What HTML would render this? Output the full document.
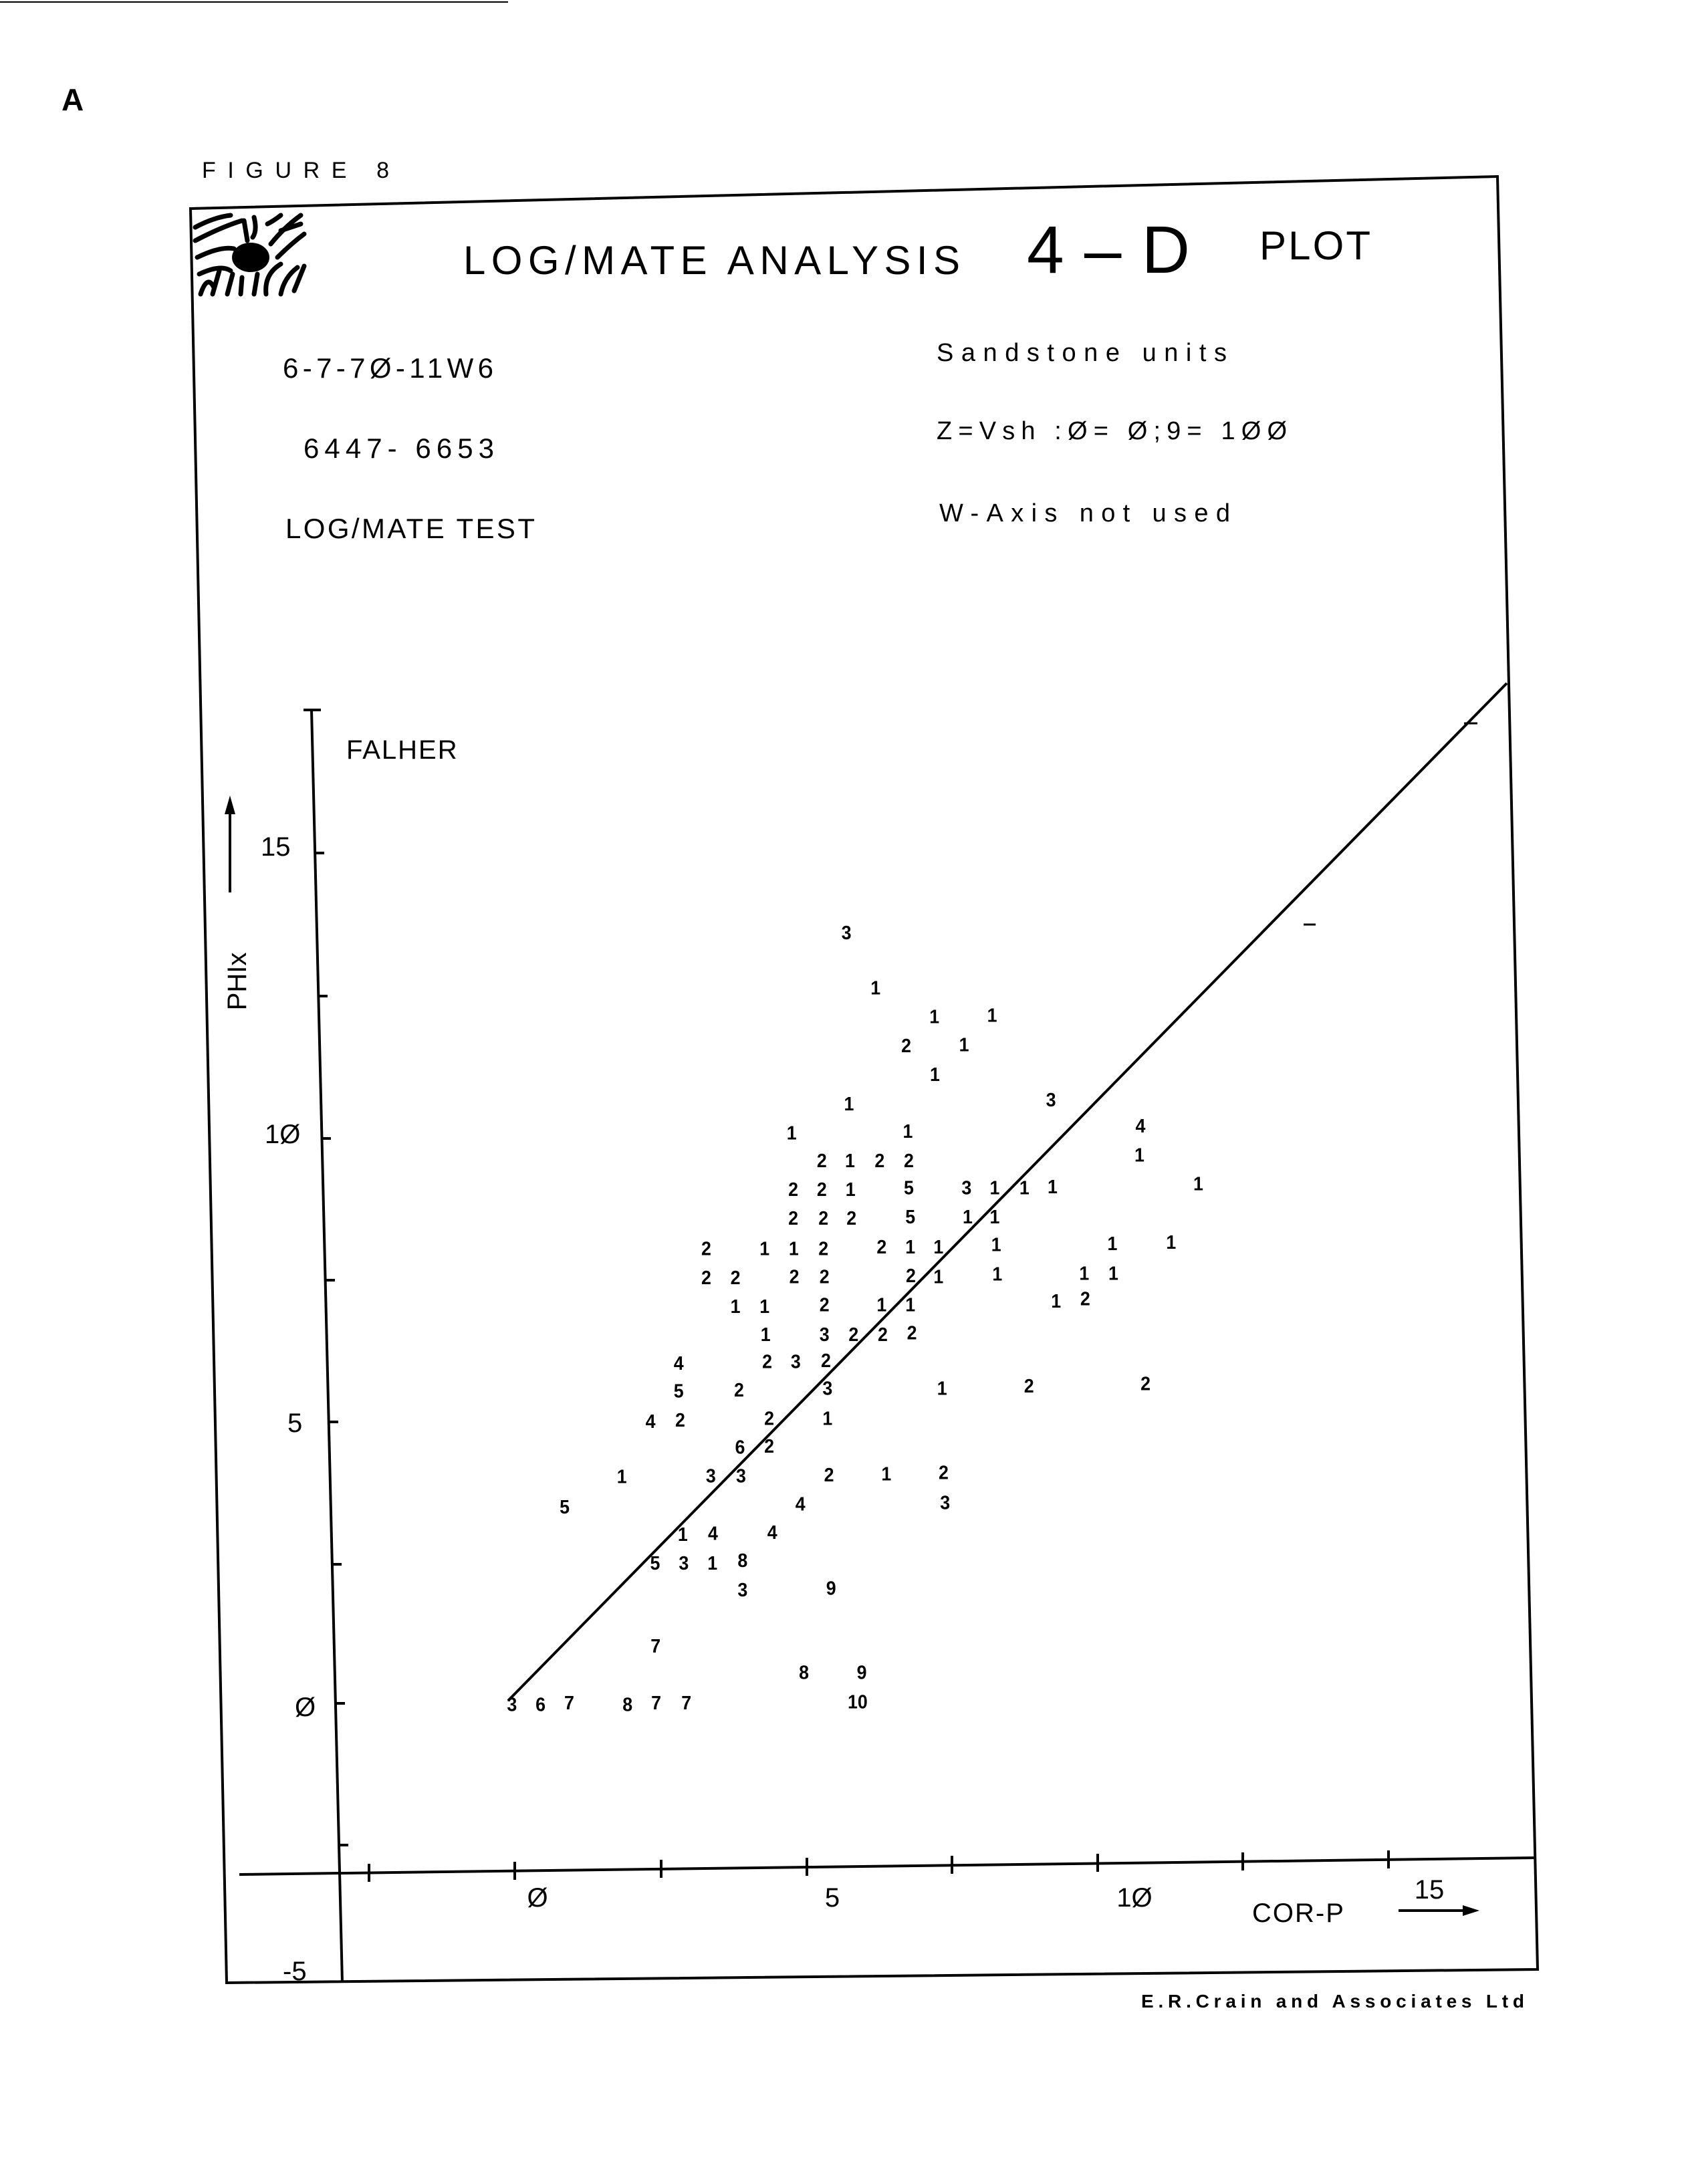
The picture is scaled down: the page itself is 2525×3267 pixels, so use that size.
<!DOCTYPE html>
<html><head><meta charset="utf-8"><style>
html,body{margin:0;padding:0;background:#fff}
svg{display:block}
text{font-family:"Liberation Sans",sans-serif;fill:#000}
.p{font-weight:bold;font-size:35px;text-anchor:middle;dominant-baseline:central}
</style></head><body>
<svg width="2525" height="3267" viewBox="0 0 2525 3267" xmlns="http://www.w3.org/2000/svg">
<line x1="0" y1="3" x2="760" y2="3" stroke="#000" stroke-width="2"/>
<text x="92" y="165" font-size="46" font-weight="bold">A</text>
<text x="302" y="266" font-size="34" textLength="280">FIGURE 8</text>
<polygon points="285,312 2240,264 2300,2946 339,2966" fill="none" stroke="#000" stroke-width="4"/>
<g stroke="#000" stroke-width="7" fill="none" stroke-linecap="round">
<path d="M292,340 Q320,325 345,322"/><path d="M292,360 Q330,340 362,330"/><path d="M295,385 Q330,368 350,372"/>
<path d="M298,410 Q330,395 345,405"/><path d="M300,440 Q310,410 320,430"/><path d="M318,440 L328,405"/>
<path d="M340,440 L348,410"/><path d="M360,440 L362,415"/><path d="M380,440 L385,410"/>
<path d="M398,440 Q395,410 420,395"/><path d="M420,440 Q425,415 445,400"/><path d="M440,435 L455,398"/>
<path d="M365,330 L370,360"/><path d="M380,325 Q385,345 378,355"/><path d="M400,335 Q410,330 420,322"/>
<path d="M405,365 Q425,340 450,322"/><path d="M415,385 Q435,365 455,350"/><path d="M420,345 L450,335"/>
</g>
<ellipse cx="375" cy="385" rx="28" ry="22" fill="#000"/>
<text x="693" y="410" font-size="60" textLength="743">LOG/MATE ANALYSIS</text>
<text x="1536" y="408" font-size="100" textLength="244">4–D</text>
<text x="1884" y="388" font-size="60" textLength="166">PLOT</text>
<text x="423" y="565" font-size="42" textLength="315">6-7-7Ø-11W6</text>
<text x="454" y="685" font-size="42" textLength="285">6447- 6653</text>
<text x="427" y="805" font-size="42" textLength="373">LOG/MATE TEST</text>
<text x="1401" y="540" font-size="38" textLength="434">Sandstone units</text>
<text x="1401" y="657" font-size="38" textLength="524">Z=Vsh :Ø= Ø;9= 1ØØ</text>
<text x="1405" y="780" font-size="38" textLength="435">W-Axis not used</text>
<g stroke="#000" stroke-width="4">
<line x1="466" y1="1062" x2="512" y2="2966"/>
<line x1="454" y1="1062" x2="480" y2="1062"/>
<line x1="471" y1="1276" x2="485" y2="1276"/><line x1="476" y1="1490" x2="490" y2="1490"/>
<line x1="481" y1="1703" x2="495" y2="1703"/><line x1="487" y1="1915" x2="501" y2="1915"/>
<line x1="492" y1="2127" x2="506" y2="2127"/><line x1="497" y1="2340" x2="511" y2="2340"/>
<line x1="502" y1="2548" x2="516" y2="2548"/><line x1="507" y1="2760" x2="521" y2="2760"/>
<line x1="358" y1="2804" x2="2298" y2="2779"/>
<line x1="552" y1="2788" x2="552" y2="2815"/><line x1="770" y1="2785" x2="770" y2="2812"/>
<line x1="989" y1="2782" x2="989" y2="2809"/><line x1="1207" y1="2779" x2="1207" y2="2806"/>
<line x1="1424" y1="2776" x2="1424" y2="2803"/><line x1="1642" y1="2773" x2="1642" y2="2800"/>
<line x1="1859" y1="2771" x2="1859" y2="2798"/><line x1="2077" y1="2768" x2="2077" y2="2795"/>
<line x1="2092" y1="2858" x2="2200" y2="2858"/>
<line x1="344" y1="1335" x2="344" y2="1210"/>
</g>
<polygon points="2213,2858 2188,2850 2188,2866" fill="#000"/>
<polygon points="344,1190 336,1218 352,1218" fill="#000"/>
<text x="390" y="1280" font-size="40">15</text>
<text x="396" y="1710" font-size="40">1Ø</text>
<text x="430" y="2142" font-size="40">5</text>
<text x="441" y="2567" font-size="40">Ø</text>
<text x="423" y="2962" font-size="40">-5</text>
<text x="804" y="2852" font-size="40" text-anchor="middle">Ø</text>
<text x="1245" y="2852" font-size="40" text-anchor="middle">5</text>
<text x="1697" y="2852" font-size="40" text-anchor="middle">1Ø</text>
<text x="2138" y="2840" font-size="40" text-anchor="middle">15</text>
<text x="1873" y="2875" font-size="40" letter-spacing="2">COR-P</text>
<text transform="translate(368,1468) rotate(-90)" font-size="40" text-anchor="middle">PHIx</text>
<text x="518" y="1135" font-size="40" letter-spacing="2">FALHER</text>
<text x="1707" y="3003" font-size="28" font-weight="bold" textLength="573">E.R.Crain and Associates Ltd</text>
<line x1="760" y1="2544" x2="2254" y2="1022" stroke="#000" stroke-width="4"/>
<line x1="1950" y1="1383" x2="1968" y2="1383" stroke="#000" stroke-width="3"/>
<line x1="2190" y1="1082" x2="2210" y2="1082" stroke="#000" stroke-width="3"/>
<g transform="translate(700,1300) scale(0.765,0.826)">
<text class="p" x="740" y="115">3</text>
<text class="p" x="797" y="215">1</text>
<text class="p" x="912" y="267">1</text><text class="p" x="1025" y="265">1</text>
<text class="p" x="857" y="320">2</text><text class="p" x="970" y="318">1</text>
<text class="p" x="913" y="372">1</text>
<text class="p" x="1140" y="418">3</text>
<text class="p" x="745" y="425">1</text>
<text class="p" x="633" y="478">1</text><text class="p" x="860" y="475">1</text>
<text class="p" x="1315" y="465">4</text>
<text class="p" x="692" y="528">2</text><text class="p" x="747" y="528">1</text><text class="p" x="805" y="528">2</text><text class="p" x="862" y="528">2</text>
<text class="p" x="1313" y="518">1</text>
<text class="p" x="636" y="580">2</text><text class="p" x="692" y="580">2</text><text class="p" x="748" y="580">1</text><text class="p" x="862" y="577">5</text><text class="p" x="975" y="577">3</text><text class="p" x="1030" y="577">1</text><text class="p" x="1088" y="577">1</text><text class="p" x="1143" y="575">1</text><text class="p" x="1428" y="570">1</text>
<text class="p" x="636" y="632">2</text><text class="p" x="695" y="632">2</text><text class="p" x="750" y="632">2</text><text class="p" x="865" y="630">5</text><text class="p" x="977" y="630">1</text><text class="p" x="1030" y="630">1</text>
<text class="p" x="466" y="687">2</text><text class="p" x="580" y="687">1</text><text class="p" x="637" y="687">1</text><text class="p" x="695" y="687">2</text><text class="p" x="809" y="684">2</text><text class="p" x="865" y="684">1</text><text class="p" x="920" y="684">1</text><text class="p" x="1033" y="680">1</text><text class="p" x="1260" y="678">1</text><text class="p" x="1375" y="676">1</text>
<text class="p" x="466" y="740">2</text><text class="p" x="523" y="740">2</text><text class="p" x="638" y="738">2</text><text class="p" x="697" y="738">2</text><text class="p" x="866" y="736">2</text><text class="p" x="920" y="738">1</text><text class="p" x="1035" y="733">1</text><text class="p" x="1205" y="732">1</text><text class="p" x="1262" y="732">1</text>
<text class="p" x="523" y="792">1</text><text class="p" x="580" y="792">1</text><text class="p" x="697" y="789">2</text><text class="p" x="809" y="789">1</text><text class="p" x="865" y="789">1</text><text class="p" x="1150" y="782">1</text><text class="p" x="1207" y="778">2</text>
<text class="p" x="582" y="843">1</text><text class="p" x="697" y="843">3</text><text class="p" x="754" y="843">2</text><text class="p" x="811" y="843">2</text><text class="p" x="868" y="840">2</text>
<text class="p" x="412" y="895">4</text><text class="p" x="585" y="892">2</text><text class="p" x="641" y="892">3</text><text class="p" x="700" y="890">2</text>
<text class="p" x="412" y="945">5</text><text class="p" x="530" y="943">2</text><text class="p" x="703" y="940">3</text><text class="p" x="927" y="940">1</text><text class="p" x="1097" y="936">2</text><text class="p" x="1325" y="932">2</text>
<text class="p" x="357" y="1000">4</text><text class="p" x="415" y="998">2</text><text class="p" x="589" y="995">2</text><text class="p" x="703" y="995">1</text>
<text class="p" x="532" y="1047">6</text><text class="p" x="589" y="1045">2</text>
<text class="p" x="301" y="1100">1</text><text class="p" x="475" y="1099">3</text><text class="p" x="534" y="1099">3</text><text class="p" x="706" y="1097">2</text><text class="p" x="818" y="1095">1</text><text class="p" x="930" y="1093">2</text>
<text class="p" x="189" y="1155">5</text><text class="p" x="650" y="1150">4</text><text class="p" x="933" y="1147">3</text>
<text class="p" x="420" y="1205">1</text><text class="p" x="479" y="1203">4</text><text class="p" x="595" y="1201">4</text>
<text class="p" x="366" y="1257">5</text><text class="p" x="422" y="1257">3</text><text class="p" x="478" y="1257">1</text><text class="p" x="537" y="1252">8</text>
<text class="p" x="537" y="1305">3</text><text class="p" x="710" y="1302">9</text>
<text class="p" x="367" y="1407">7</text>
<text class="p" x="657" y="1455">8</text><text class="p" x="770" y="1455">9</text>
<text class="p" x="86" y="1513">3</text><text class="p" x="142" y="1513">6</text><text class="p" x="198" y="1510">7</text><text class="p" x="312" y="1513">8</text><text class="p" x="368" y="1510">7</text><text class="p" x="427" y="1510">7</text><text class="p" x="762" y="1508">10</text>
</g>
</svg>
</body></html>
